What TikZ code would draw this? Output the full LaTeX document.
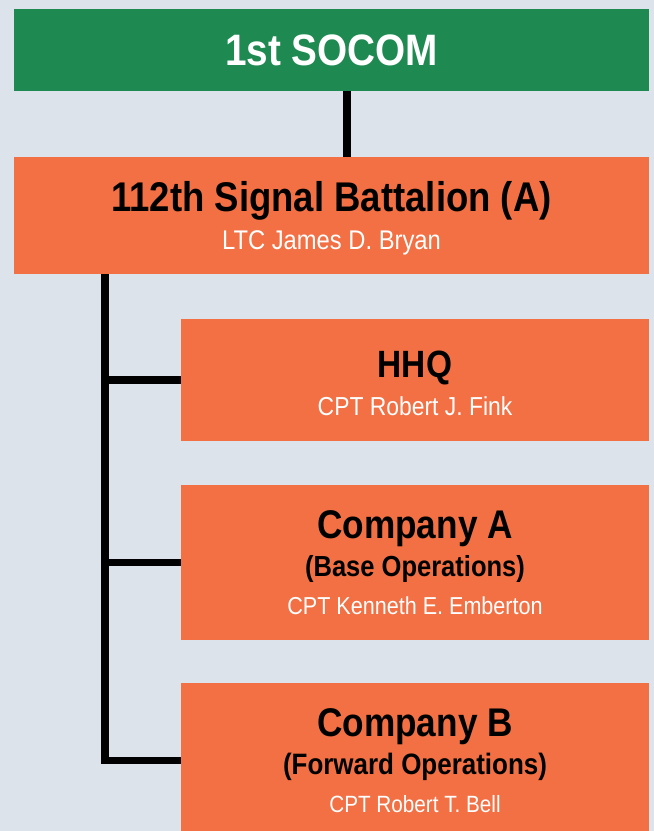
\documentclass[tikz,border=0pt]{standalone}
\usepackage{fontspec}
\setmainfont{Liberation Sans}[FakeStretch=0.88]
\usetikzlibrary{arrows}
\definecolor{bggray}{RGB}{220,227,234}
\definecolor{socomgreen}{RGB}{30,138,82}
\definecolor{sigorange}{RGB}{242,112,68}
\newcommand{\unitname}[2]{{\fontsize{#1}{38}\selectfont\bfseries #2}}
\newcommand{\cmdname}[2]{{\fontsize{#1}{38}\selectfont\color{white}#2}}

\begin{document}
\begin{tikzpicture}[x=1pt,y=-1pt]
\tikzstyle{unit}=[fill=sigorange,inner sep=0pt,align=center,font=\fontsize{26}{38}\selectfont]
\tikzstyle{link}=[line width=7.5pt]
\useasboundingbox (0,0) rectangle (654,831);
\clip (0,0) rectangle (654,831);
\fill[bggray] (0,0) rectangle (654,831);
\node[unit,fill=socomgreen,text=white,minimum width=635pt,minimum height=82pt] (SOC) at (331.5,50) {\unitname{44}{1st SOCOM}};
\node[unit,minimum width=635pt,minimum height=117pt] (BN) at (331.5,215.5) {\rule{0pt}{36pt}\unitname{41.5}{112th Signal Battalion (A)}\\\cmdname{27}{LTC James D. Bryan}};
\node[unit,minimum width=468pt,minimum height=122pt] (HHQ) at (415,380) {\rule{0pt}{33pt}\unitname{38}{HHQ}\\\cmdname{26}{CPT Robert J. Fink}};
\node[unit,minimum width=468pt,minimum height=155pt] (COA) at (415,562.5) {\unitname{40}{Company A}\\\unitname{29}{(Base Operations)}\\\cmdname{24.5}{CPT Kenneth E. Emberton}};
\node[unit,minimum width=468pt,minimum height=155pt] (COB) at (415,760.5) {\unitname{40}{Company B}\\\unitname{29.5}{(Forward Operations)}\\\cmdname{23.5}{CPT Robert T. Bell}};
\coordinate (TR) at ([xshift=-226.5pt]BN.south);
\draw[link] ([xshift=15.5pt]SOC.south) -- ([xshift=15.5pt]BN.north);
\draw[link] (TR) |- (HHQ.west);
\draw[link] (TR) |- (COA.west);
\draw[link] (TR) |- (COB.west);
\end{tikzpicture}
\end{document}
